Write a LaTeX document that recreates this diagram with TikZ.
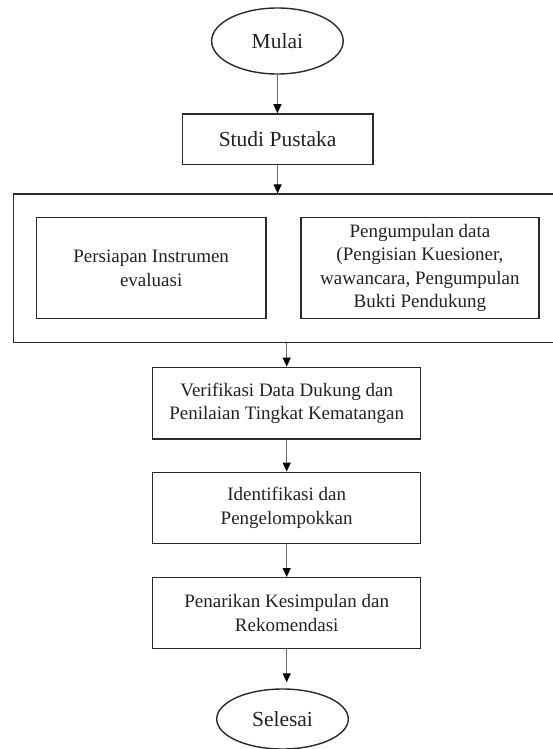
\documentclass[tikz,border=0pt]{standalone}
\usepackage{fontspec}
\setmainfont{Liberation Serif}
\usetikzlibrary{shapes.geometric,arrows.meta}
\definecolor{boxc}{HTML}{2A2A2A}
\definecolor{linec}{HTML}{6E6E6E}
\definecolor{txt}{HTML}{222222}
\begin{document}
\begin{tikzpicture}[x=1pt,y=-1pt,
  box/.style={draw=boxc, line width=1.4pt, rectangle, inner sep=0pt, align=center, text=txt,
    font=\fontsize{19}{23.5}\selectfont},
  bigbox/.style={box, font=\fontsize{21.5}{26.5}\selectfont},
  term/.style={bigbox, ellipse},
  conn/.style={draw=linec, line width=1.1pt, -{Triangle[width=8pt,length=9pt,color=black]}}]
\clip (0,0) rectangle (553,749);
\node[term, minimum width=131.6pt, minimum height=66pt] (mulai) at (277.4,41) {Mulai};
\node[bigbox, minimum width=190.4pt, minimum height=50.7pt] (studi) at (277.6,139.3) {Studi Pustaka};
\node[box, minimum width=586.6pt, minimum height=148.3pt] (outer) at (306.7,268.2) {};
\node[box, minimum width=229.7pt, minimum height=100.9pt] (persiapan) at (151.15,268.2)
  {Persiapan Instrumen\\evaluasi};
\node[box, minimum width=238.1pt, minimum height=100.9pt] (pengumpulan) at (419.95,268.2)
  {Pengumpulan data\\(Pengisian Kuesioner,\\wawancara, Pengumpulan\\Bukti Pendukung};
\node[box, minimum width=268pt, minimum height=71.7pt] (verif) at (286.7,403.15)
  {Verifikasi Data Dukung dan\\Penilaian Tingkat Kematangan};
\node[box, minimum width=268pt, minimum height=71pt] (ident) at (286.7,507.8)
  {Identifikasi dan\\Pengelompokkan};
\node[box, minimum width=268pt, minimum height=71pt] (penar) at (286.7,613.2)
  {Penarikan Kesimpulan dan\\Rekomendasi};
\node[term, minimum width=131.6pt, minimum height=60pt] (selesai) at (282.5,719) {Selesai};
\draw[conn] (mulai.south) -- (mulai.south |- studi.north);
\draw[conn] (studi.south) -- (studi.south |- outer.north);
\draw[conn] (outer.south -| verif.north) -- (verif.north);
\draw[conn] (verif) -- (ident);
\draw[conn] (ident) -- (penar);
\draw[conn, shorten >=6pt] (penar.south) -- (penar.south |- selesai.north);
\end{tikzpicture}
\end{document}
